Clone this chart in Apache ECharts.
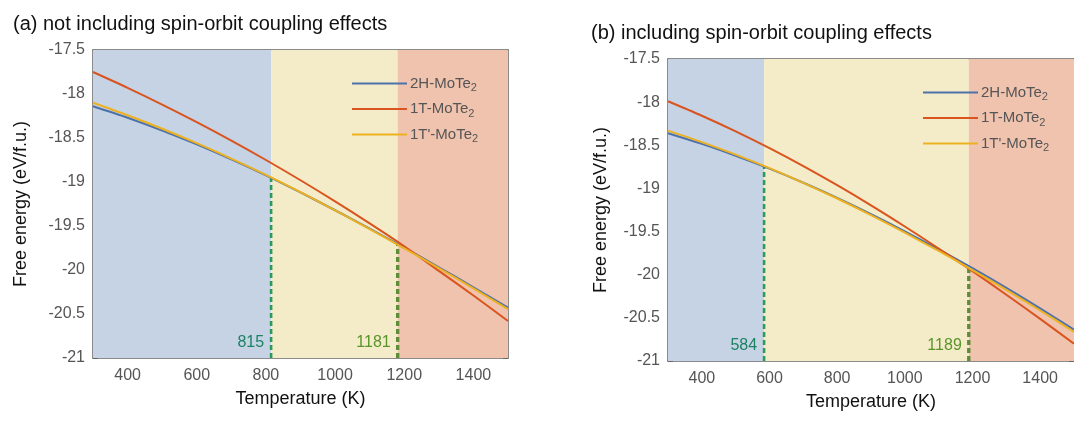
<!DOCTYPE html>
<html><head><meta charset="utf-8">
<script src="https://cdn.jsdelivr.net/npm/echarts@6/dist/echarts.min.js"></script>
<style>html,body{margin:0;padding:0;background:#fff}#c{width:1074px;height:422px}</style>
</head><body><div id="c"></div>
<script>
const temps = [300,400,500,600,700,800,900,1000,1100,1200,1300,1400,1500];
const xTicks = [400,600,800,1000,1200,1400];
const seriesNames = ['2H-MoTe2','1T-MoTe2',"1T'-MoTe2"];
// Panel (a): without SOC
const freeA_2H  = [-18.140,-18.270,-18.415,-18.573,-18.743,-18.924,-19.118,-19.321,-19.531,-19.747,-19.969,-20.196,-20.427];
const freeA_1T  = [-17.750,-17.930,-18.120,-18.320,-18.530,-18.750,-18.980,-19.220,-19.470,-19.730,-20.010,-20.290,-20.580];
const freeA_1Tp = [-18.100,-18.242,-18.395,-18.559,-18.734,-18.919,-19.116,-19.322,-19.535,-19.753,-19.978,-20.209,-20.445];
const bandsA = [300,815,1181,1500];
const transA = [815,1181];
const transTopA = [-18.95,-19.70];
// Panel (b): with SOC
const freeB_2H  = [-18.360,-18.484,-18.621,-18.771,-18.934,-19.110,-19.298,-19.497,-19.706,-19.924,-20.152,-20.390,-20.636];
const freeB_1T  = [-17.990,-18.158,-18.339,-18.534,-18.742,-18.963,-19.196,-19.441,-19.696,-19.960,-20.232,-20.512,-20.799];
const freeB_1Tp = [-18.330,-18.463,-18.608,-18.765,-18.935,-19.117,-19.310,-19.513,-19.725,-19.946,-20.176,-20.415,-20.662];
const bandsB = [300,584,1189,1500];
const transB = [584,1189];
const transTopB = [-18.74,-19.93];
const yMin = -21, yMax = -17.5;

const FONT = 'Liberation Sans, Arial, Helvetica, sans-serif';
const lineColors = ['#4d72ab','#d9541e','#edb120'];
const bandColors = ['#c6d3e5','#f4ecc8','#f0c3ae'];
const dashColors = ['#2b9a5e','#5e8c3a'];
const dashLabelColors = ['#1c8263','#5a942a'];
const axisCol = '#666';

function xAxes(g){
  const common = {type:'value', gridIndex:g, min:300, max:1500,
    axisLine:{show:true, lineStyle:{color:axisCol, width:1.5}},
    splitLine:{show:false}};
  return [
    Object.assign({}, common, {position:'bottom', name:'Temperature (K)', nameLocation:'middle', nameGap:32,
      nameTextStyle:{fontFamily:FONT, fontSize:18, color:'#111'},
      axisTick:{inside:true, length:5, customValues:xTicks, lineStyle:{color:axisCol}},
      axisLabel:{customValues:xTicks, formatter:v=>String(v), fontFamily:FONT, fontSize:16, color:'#555', margin:10}}),
    Object.assign({}, common, {position:'top',
      axisTick:{inside:true, length:5, customValues:xTicks, lineStyle:{color:axisCol}},
      axisLabel:{show:false}})
  ];
}
function yAxes(g){
  const common = {type:'value', gridIndex:g, min:yMin, max:yMax, interval:0.5,
    axisLine:{show:true, lineStyle:{color:axisCol, width:1.5}},
    axisTick:{inside:true, length:5, lineStyle:{color:axisCol}},
    splitLine:{show:false}};
  return [
    Object.assign({}, common, {position:'left', name:'Free energy (eV/f.u.)', nameLocation:'middle', nameGap:g===0?63:58,
      nameTextStyle:{fontFamily:FONT, fontSize:18, color:'#111'},
      axisLabel:{fontFamily:FONT, fontSize:16, color:'#555', margin:8}}),
    Object.assign({}, common, {position:'right', axisLabel:{show:false}})
  ];
}

function panelSeries(g, d2H, d1T, d1Tp, bands, trans, transTop){
  const xi = g*2, yi = g*2;
  const out = [];
  out.push({type:'line', xAxisIndex:xi, yAxisIndex:yi, data:[], silent:true, z:0,
    markArea:{silent:true, data:[0,1,2].map(i=>[{xAxis:bands[i], itemStyle:{color:bandColors[i]}},{xAxis:bands[i+1]}])}});
  [d2H,d1T,d1Tp].forEach((arr,k)=>{
    out.push({type:'line', name:seriesNames[k], xAxisIndex:xi, yAxisIndex:yi, showSymbol:false, smooth:0.3,
      z:3, lineStyle:{color:lineColors[k], width:2}, itemStyle:{color:lineColors[k]},
      data: temps.map((t,i)=>[t, arr[i]])});
  });
  trans.forEach((t,k)=>{
    out.push({type:'line', xAxisIndex:xi, yAxisIndex:yi, showSymbol:false, z:2, silent:true,
      lineStyle:{color:dashColors[k], width:k===0?2.6:3.4, type:[5,3]},
      data:[[t, yMin], [t, transTop[k]]]});
    out.push({type:'scatter', xAxisIndex:xi, yAxisIndex:yi, z:4, silent:true, symbol:'rect', symbolSize:2, clip:false,
      itemStyle:{color:'rgba(0,0,0,0)'},
      label:{show:true, formatter:String(t), position:'left', distance:6, offset:[0,-15],
        fontFamily:FONT, fontSize:16, color:dashLabelColors[k], opacity:1}},
      );
    out[out.length-1].data = [[t, yMin]];
  });
  return out;
}

function legend(left, top){
  return {orient:'vertical', left:left, top:top, itemWidth:55, itemHeight:14, itemGap:8,
    icon:'path://M0,6L55,6L55,8L0,8Z',
    data: seriesNames,
    formatter: n => n.slice(0,-1)+'{s|2}',
    textStyle:{fontFamily:FONT, fontSize:15, color:'#555', padding:[0,0,0,-2],
      rich:{s:{fontFamily:FONT, fontSize:11, color:'#555', padding:[9,0,0,0]}}},
    selectedMode:false};
}

const chart = echarts.init(document.getElementById('c'), null, {renderer:'canvas'});
chart.setOption({
  animation:false,
  backgroundColor:'#fff',
  title:[
    {text:'(a) not including spin-orbit coupling effects', left:8, top:9, textStyle:{fontFamily:FONT, fontSize:20, fontWeight:'normal', color:'#111'}},
    {text:'(b) including spin-orbit coupling effects', left:586, top:18, textStyle:{fontFamily:FONT, fontSize:20, fontWeight:'normal', color:'#111'}}
  ],
  legend:[legend(347,71), legend(918,80)],
  grid:[
    {left:93, top:50, width:415, height:308},
    {left:668, top:59, width:408, height:302}
  ],
  xAxis:[...xAxes(0), ...xAxes(1)],
  yAxis:[...yAxes(0), ...yAxes(1)],
  series:[
    ...panelSeries(0, freeA_2H, freeA_1T, freeA_1Tp, bandsA, transA, transTopA),
    ...panelSeries(1, freeB_2H, freeB_1T, freeB_1Tp, bandsB, transB, transTopB)
  ]
});
</script></body></html>
